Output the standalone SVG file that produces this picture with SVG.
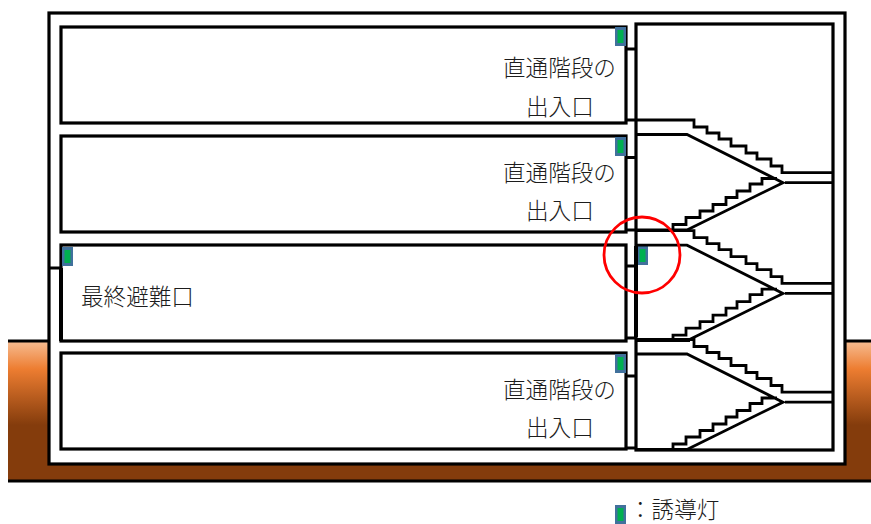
<svg xmlns="http://www.w3.org/2000/svg" width="871" height="524" viewBox="0 0 871 524">
<style>
.w{fill:none;stroke:#000;stroke-width:3.2}
.f{fill:#fff;stroke:#000;stroke-width:3.2}
.s{fill:none;stroke:#000;stroke-width:2.8}
.t{font-family:"Noto Sans CJK JP","Noto Sans JP",sans-serif;font-size:22.6px;fill:#1c1c1c;font-weight:300}
.lb{fill:#41719c}
.lg{fill:#00b050}
</style>
<defs>
<linearGradient id="g" x1="0" y1="0" x2="0" y2="1">
<stop offset="0" stop-color="#f7bd92"/>
<stop offset="0.2" stop-color="#ed7d31"/>
<stop offset="0.6" stop-color="#843c0c"/>
<stop offset="1" stop-color="#843c0c"/>
</linearGradient>
<g id="light"><rect class="lb" x="0" y="0" width="11" height="19"/><rect class="lg" x="2.500" y="3" width="6" height="13"/></g>
<path id="upper" d="M636 120H694V127H707V133H719V139H731V146H746V153H757V159H771V166H782V172.700H833"/>
<path id="lower" d="M636 134.500H687L783 182.700L687 230M785 182.700H833M636 230H690M673 230V224.500H686V217.500H700V211H713V204.500H726V197.500H737V191H750V184H762V178.500H777"/>
</defs>
<g id="ground">
<rect x="8" y="341" width="863" height="140" fill="url(#g)"/>
<path d="M8 341H49M845 341H871M8 481H871" class="w"/>
</g>
<g id="building">
<rect x="49" y="13" width="796" height="451" class="f"/>
</g>
<g id="floor-1">
<rect x="61" y="27" width="565" height="96" class="f"/>
<use href="#light" x="615" y="27"/>
<text class="t" x="503" y="76">直通階段の</text>
<text class="t" x="526" y="115">出入口</text>
</g>
<g id="floor-2">
<rect x="61" y="136" width="565" height="96" class="f"/>
<use href="#light" x="615" y="137"/>
<text class="t" x="503" y="181">直通階段の</text>
<text class="t" x="526" y="219">出入口</text>
</g>
<g id="floor-3">
<rect x="61" y="245" width="565" height="96" class="f"/>
<use href="#light" x="62" y="247"/>
<text class="t" x="81" y="305">最終避難口</text>
</g>
<g id="floor-4">
<rect x="61" y="353" width="565" height="96" class="f"/>
<use href="#light" x="615" y="354"/>
<text class="t" x="503" y="398">直通階段の</text>
<text class="t" x="526" y="436">出入口</text>
</g>
<g id="stair-shaft">
<rect x="636" y="24" width="197" height="426" class="f"/>
<use href="#light" x="637" y="246"/>
</g>
<g id="connectors">
<use href="#upper" class="s"/>
<use href="#lower" class="s"/>
<use href="#upper" class="s" y="110.700"/>
<use href="#lower" class="s" y="110.700"/>
<use href="#upper" class="s" y="219.500"/>
<use href="#lower" class="s" y="219.500"/>
<path class="w" d="M626 49H636M626 120H636M626 157.500H636M626 230H636M626 266H636M626 338H636M626 376H636M626 448H636M49 268H61"/>
<path d="M636 246V337" stroke="#000" stroke-width="4" fill="none"/>
<path d="M61 268V341" stroke="#000" stroke-width="4" fill="none"/>
</g>
<g id="highlight">
<circle cx="642" cy="255" r="38" fill="none" stroke="#f00" stroke-width="2.800"/>
</g>
<g id="legend">
<use href="#light" x="615" y="505"/>
<text class="t" x="629" y="517.500">：誘導灯</text>
</g>
</svg>
